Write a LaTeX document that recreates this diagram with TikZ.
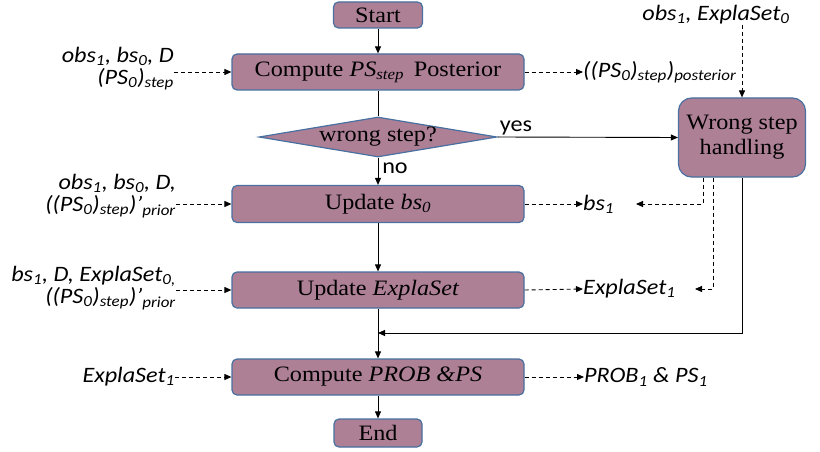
\documentclass[tikz,border=0pt]{standalone}
\usepackage{fontspec}
\setmainfont[FakeStretch=1.1]{Liberation Serif}
\newfontfamily\labfont[FakeStretch=1.1]{Carlito}
\usetikzlibrary{arrows.meta,shapes.geometric}
\definecolor{boxfill}{RGB}{174,128,150}
\definecolor{boxline}{RGB}{72,112,160}
\begin{document}
\begin{tikzpicture}[x=1pt,y=-1pt,
  proc/.style={draw=boxline,fill=boxfill,line width=1.2pt,rounded corners=5pt,
    inner sep=0pt,font=\fontsize{22}{25}\selectfont},
  lab/.style={font=\labfont\itshape\fontsize{22}{22}\selectfont,inner sep=0pt},
  yn/.style={font=\labfont\fontsize{22}{24}\selectfont,inner sep=0pt},
  flow/.style={line width=0.9pt,-{Triangle[length=7pt,width=6pt]}},
  plain/.style={line width=0.9pt},
  dflow/.style={line width=0.9pt,dash pattern=on 4pt off 3pt,-{Triangle[length=7pt,width=6pt]}}]
\useasboundingbox (0,0) rectangle (820,452);
\node[proc,minimum width=89pt,minimum height=26pt] (start) at (378,15) {Start};
\node[proc,minimum width=292pt,minimum height=36pt] (ps) at (378,72) {Compute \textit{PS\textsubscript{step}}\, Posterior};
\node[draw=boxline,fill=boxfill,line width=1.2pt,diamond,aspect=6,inner sep=0pt,
  minimum width=238pt,minimum height=40pt,font=\fontsize{22}{25}\selectfont] (dia) at (378,137) {wrong step?};
\node[proc,minimum width=292pt,minimum height=37pt] (ub) at (378,204) {Update \textit{bs\textsubscript{0}}};
\node[proc,minimum width=292pt,minimum height=36pt] (ue) at (378,290) {Update \textit{ExplaSet}};
\node[proc,minimum width=292pt,minimum height=36pt] (cp) at (378,377) {Compute \textit{PROB \&PS}};
\node[proc,minimum width=88pt,minimum height=28pt] (end) at (378,433) {End};
\node[proc,rounded corners=13pt,minimum width=127pt,minimum height=79pt,align=center,
  font=\fontsize{22}{25}\selectfont] (wr) at (742,137.5) {Wrong step\\handling};
% left labels
\node[lab,align=right,anchor=east] (l1) at (174,69) {obs\textsubscript{1}, bs\textsubscript{0}, D\\(PS\textsubscript{0})\textsubscript{step}};
\node[lab,align=right,anchor=east] (l2) at (176,196) {obs\textsubscript{1}, bs\textsubscript{0}, D,\\((PS\textsubscript{0})\textsubscript{step})’\textsubscript{prior}};
\node[lab,align=right,anchor=east] (l3) at (176,288) {bs\textsubscript{1}, D, ExplaSet\textsubscript{0,}\\((PS\textsubscript{0})\textsubscript{step})’\textsubscript{prior}};
\node[lab,anchor=east] (l4) at (175,377) {ExplaSet\textsubscript{1}};
% right labels
\node[lab,anchor=west] (r1) at (583,72) {((PS\textsubscript{0})\textsubscript{step})\textsubscript{posterior}};
\node[lab,anchor=west] (r2) at (583,204) {bs\textsubscript{1}};
\node[lab,anchor=west] (r3) at (583,289) {ExplaSet\textsubscript{1}};
\node[lab,anchor=west] (r4) at (584,377) {PROB\textsubscript{1} \& PS\textsubscript{1}};
\node[lab] (top) at (716,15) {obs\textsubscript{1}, ExplaSet\textsubscript{0}};
\node[yn] (yes) at (516,128) {yes};
\node[yn] (no) at (395,168) {no};
\coordinate (m) at (378,333);
\coordinate (t1) at (636,204);
\coordinate (t2) at (695,289);
% main flow
\draw[flow] (start) -- (ps);
\draw[plain] (ps) -- (dia);
\draw[flow] (dia) -- (ub);
\draw[flow] (ub) -- (ue);
\draw[flow] (ue) -- (cp);
\draw[flow] (cp) -- (end);
\draw[flow] (dia.east) -- (wr.west);
\draw[flow] (wr.south) |- (m);
% dashed inputs/outputs
\draw[dflow] (l1.east |- ps.west) -- (ps.west);
\draw[dflow] (l2.east |- ub.west) -- (ub.west);
\draw[dflow] (l3.east |- ue.west) -- (ue.west);
\draw[dflow] (l4.east) -- (cp.west);
\draw[dflow] (ps.east) -- (r1.west);
\draw[dflow] (ub.east) -- (r2.west);
\draw[dflow] (ue.east) -- (r3.west);
\draw[dflow] (cp.east) -- (r4.west);
\draw[dflow] (wr.north |- top.south) -- (wr.north);
\draw[dflow] ([xshift=-39pt]wr.south) |- (t1);
\draw[dflow] ([xshift=-29pt]wr.south) |- (t2);
\end{tikzpicture}
\end{document}
